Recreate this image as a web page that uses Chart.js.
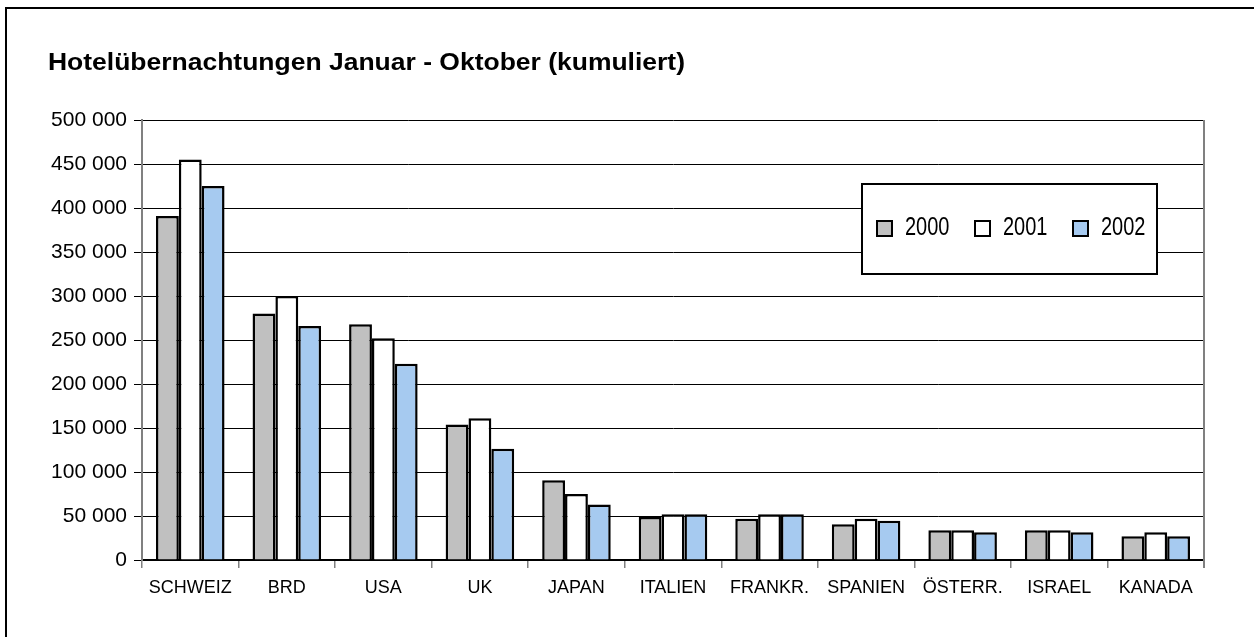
<!DOCTYPE html>
<html>
<head>
<meta charset="utf-8">
<script src="https://cdn.jsdelivr.net/npm/chart.js@4.4.1/dist/chart.umd.min.js"></script>
<style>
  html, body { margin: 0; padding: 0; background: #fff; }
  #wrap { width: 1254px; height: 637px; position: relative; }
</style>
</head>
<body>
<div id="wrap"><canvas id="c" width="1254" height="637"></canvas></div>
<script>
const titleText = "Hotelübernachtungen Januar - Oktober (kumuliert)";
const categories = ["SCHWEIZ", "BRD", "USA", "UK", "JAPAN", "ITALIEN", "FRANKR.", "SPANIEN", "ÖSTERR.", "ISRAEL", "KANADA"];
const seriesNames = ["2000", "2001", "2002"];
const values2000 = [391000, 280000, 268000, 154000, 90500, 49000, 47000, 40500, 33700, 33700, 27000];
const values2001 = [455000, 300000, 252000, 161000, 75000, 52000, 52000, 47000, 33700, 33700, 31500];
const values2002 = [425000, 266000, 223000, 126500, 63000, 52000, 52000, 44700, 31500, 31500, 27000];
const yTicks = [0, 50000, 100000, 150000, 200000, 250000, 300000, 350000, 400000, 450000, 500000];
const colors = ["#C0C0C0", "#FFFFFF", "#A6CAF0"];

function fmt(v) {
  return String(v).replace(/\B(?=(\d{3})+(?!\d))/g, " ");
}

const FONT = "'Liberation Sans', Arial, sans-serif";

const framePlugin = {
  id: "frame",
  beforeDraw(chart) {
    const ctx = chart.ctx;
    ctx.save();
    ctx.fillStyle = "#fff";
    ctx.fillRect(0, 0, chart.width, chart.height);
    ctx.strokeStyle = "#000";
    ctx.lineWidth = 2;
    ctx.beginPath();
    ctx.moveTo(6, chart.height);
    ctx.lineTo(6, 8);
    ctx.lineTo(chart.width, 8);
    ctx.stroke();
    // title, stretched horizontally to match the original width
    ctx.fillStyle = "#000";
    ctx.font = "bold 23px " + FONT;
    ctx.textBaseline = "alphabetic";
    ctx.textAlign = "left";
    const w = ctx.measureText(titleText).width;
    const sx = 637 / w;
    ctx.translate(48, 70);
    ctx.scale(sx, 1);
    ctx.fillText(titleText, 0, 0);
    ctx.restore();
  },
  afterDatasetsDraw(chart) {
    const ctx = chart.ctx;
    const a = chart.chartArea;
    ctx.save();
    // right plot edge
    ctx.strokeStyle = "#808080";
    ctx.lineWidth = 2;
    ctx.beginPath();
    ctx.moveTo(a.right, a.top);
    ctx.lineTo(a.right, a.bottom + 8);
    ctx.stroke();
    // legend
    const lx = 862, ly = 184, lw = 295, lh = 90;
    ctx.fillStyle = "#fff";
    ctx.fillRect(lx, ly, lw, lh);
    ctx.strokeStyle = "#000";
    ctx.lineWidth = 2;
    ctx.strokeRect(lx, ly, lw, lh);
    const xs = [877, 975, 1073];
    seriesNames.forEach((n, i) => {
      ctx.fillStyle = colors[i];
      ctx.fillRect(xs[i], 221, 15, 15);
      ctx.strokeStyle = "#000";
      ctx.lineWidth = 2;
      ctx.strokeRect(xs[i], 221, 15, 15);
      ctx.save();
      ctx.fillStyle = "#000";
      ctx.font = "20px " + FONT;
      ctx.textBaseline = "alphabetic";
      ctx.textAlign = "left";
      ctx.translate(xs[i] + 28, 235);
      ctx.scale(1, 1.33);
      ctx.fillText(n, 0, 0);
      ctx.restore();
    });
    ctx.restore();
  }
};

const datasets = [values2000, values2001, values2002].map((vals, i) => ({
  label: seriesNames[i],
  data: vals,
  backgroundColor: colors[i],
  borderColor: "#000",
  borderWidth: 2.5,
  categoryPercentage: 0.71,
  barPercentage: 1.0
}));

new Chart(document.getElementById("c"), {
  type: "bar",
  data: { labels: categories, datasets },
  plugins: [framePlugin],
  options: {
    responsive: false,
    animation: false,
    events: [],
    layout: { padding: { left: 0, right: 50, top: 120, bottom: 0 } },
    plugins: { legend: { display: false }, title: { display: false }, tooltip: { enabled: false } },
    scales: {
      x: {
        grid: { display: true, drawOnChartArea: false, drawTicks: true, tickLength: 8, color: "#808080", lineWidth: 1.5, offset: true },
        border: { display: true, color: "#000", width: 2 },
        ticks: { color: "#000", font: { family: FONT, size: 18 }, padding: 9, maxRotation: 0, autoSkip: false },
        afterFit(s) { s.height = 77; }
      },
      y: {
        min: 0, max: 500000,
        afterBuildTicks(s) { s.ticks = yTicks.map(v => ({ value: v })); },
        grid: { color: "#000", lineWidth: 1, drawTicks: true, tickLength: 8 },
        border: { display: true, color: "#808080", width: 2 },
        ticks: { color: "#000", font: { family: FONT, size: 21 }, padding: 7, callback: v => fmt(v) },
        afterFit(s) { s.width = 142; }
      }
    }
  }
});
</script>
</body>
</html>
